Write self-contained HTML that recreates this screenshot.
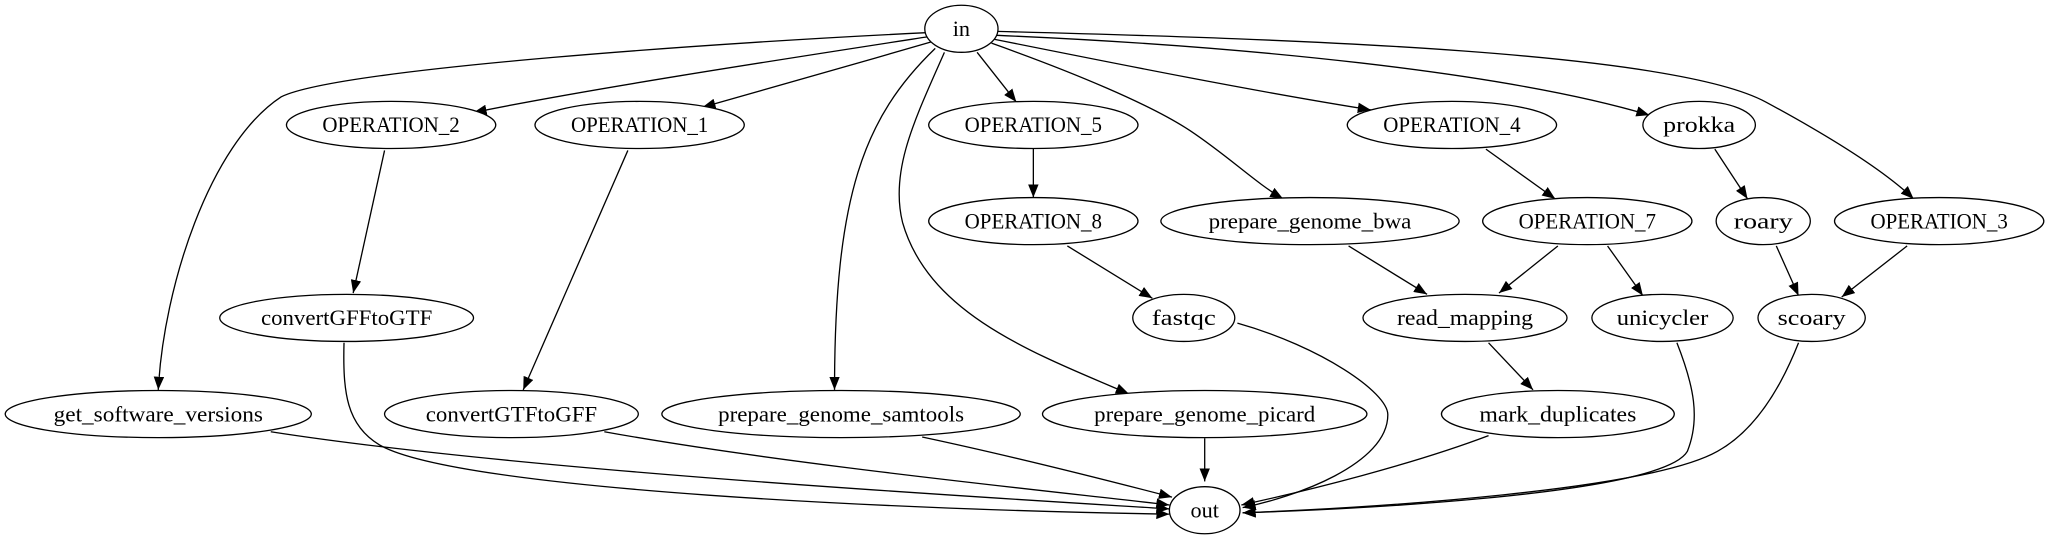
<!DOCTYPE html>
<html><head><meta charset="utf-8"><style>
html,body{margin:0;padding:0;background:#fff;}
svg{display:block;}
text{font-family:"Liberation Serif",serif;font-size:17px;fill:#000;}
</style></head><body>
<svg width="2051" height="539" viewBox="0 0 1568 412" preserveAspectRatio="none" xmlns="http://www.w3.org/2000/svg">
<defs>
<marker id="a" markerUnits="userSpaceOnUse" markerWidth="11" markerHeight="8" refX="10" refY="4" orient="auto">
<path d="M0,0 L10,4 L0,8 z" fill="#000"/>
</marker>
</defs>
<g fill="none" stroke="#000" stroke-width="1" marker-end="url(#a)">
<path d="M708,25 C560,32 260,52 215,74 C160,110 125,220 121,298"/>
<path d="M710,28 C600,45 450,68 362,86"/>
<path d="M712,32 C650,50 580,70 537,82"/>
<path d="M715,37 C660,90 638,150 638,298"/>
<path d="M722,40 C700,90 680,130 690,170 C710,240 790,270 863,301"/>
<path d="M747,40 L777,78"/>
<path d="M758,33 C820,55 880,80 910,100 C940,120 960,140 981,152"/>
<path d="M760,30 C860,50 960,70 1048,84"/>
<path d="M762,27 C950,35 1150,55 1261,88"/>
<path d="M762,24 C1000,30 1280,40 1350,78 C1400,105 1440,130 1463,152"/>
<path d="M294,115 L270,224"/>
<path d="M480,115 L400,298"/>
<path d="M790,113 L790,151"/>
<path d="M816,188 L881,228"/>
<path d="M1031,188 L1091,225"/>
<path d="M1136,114 L1189,152"/>
<path d="M1191,188 L1146,224"/>
<path d="M1229,188 L1256,226"/>
<path d="M1311,114 L1336,152"/>
<path d="M1358,188 L1375,226"/>
<path d="M1458,188 L1408,227"/>
<path d="M1138,262 L1172,298"/>
<path d="M921,335 L921,368"/>
<path d="M946,247 C1010,265 1061,300 1061,317 C1061,355 990,380 950,388"/>
<path d="M1138,333 C1080,355 1000,375 949,386"/>
<path d="M1282,262 C1295,295 1300,320 1290,345 C1270,380 1010,390 950,392"/>
<path d="M1375,262 C1360,300 1340,330 1313,345 C1260,375 1050,388 950,392"/>
<path d="M207,330 C400,360 750,380 894,389"/>
<path d="M462,330 C600,355 800,375 894,386"/>
<path d="M705,334 C780,350 850,368 896,380"/>
<path d="M263,262 C262,300 265,325 290,340 C350,375 700,390 894,393"/>
</g>
<g fill="#fff" stroke="#000" stroke-width="1">
<ellipse cx="735" cy="22" rx="28" ry="18"/>
<ellipse cx="299" cy="95.5" rx="80" ry="18"/>
<ellipse cx="489" cy="95.5" rx="80" ry="18"/>
<ellipse cx="790" cy="95.5" rx="80" ry="18"/>
<ellipse cx="1110" cy="95.5" rx="80" ry="18"/>
<ellipse cx="1299" cy="95.5" rx="43" ry="18"/>
<ellipse cx="790" cy="169" rx="80" ry="18"/>
<ellipse cx="1001.5" cy="169" rx="114" ry="18"/>
<ellipse cx="1213.5" cy="169" rx="80" ry="18"/>
<ellipse cx="1348" cy="169" rx="36" ry="18"/>
<ellipse cx="1482.5" cy="169" rx="80" ry="18"/>
<ellipse cx="265" cy="243" rx="97" ry="18"/>
<ellipse cx="905" cy="243" rx="39" ry="18"/>
<ellipse cx="1120" cy="243" rx="78" ry="18"/>
<ellipse cx="1271" cy="243" rx="54" ry="18"/>
<ellipse cx="1385" cy="243" rx="41" ry="18"/>
<ellipse cx="121" cy="316.5" rx="117" ry="18"/>
<ellipse cx="391" cy="316.5" rx="97" ry="18"/>
<ellipse cx="643" cy="316.5" rx="137" ry="18"/>
<ellipse cx="921" cy="316.5" rx="124" ry="18"/>
<ellipse cx="1191" cy="316.5" rx="89" ry="18"/>
<ellipse cx="921" cy="390" rx="27" ry="18"/>
</g>
<g text-anchor="middle" lengthAdjust="spacingAndGlyphs">
<text x="735" y="27.5">in</text>
<text x="299" y="101" textLength="105" lengthAdjust="spacingAndGlyphs">OPERATION_2</text>
<text x="489" y="101" textLength="105" lengthAdjust="spacingAndGlyphs">OPERATION_1</text>
<text x="790" y="101" textLength="105" lengthAdjust="spacingAndGlyphs">OPERATION_5</text>
<text x="1110" y="101" textLength="105" lengthAdjust="spacingAndGlyphs">OPERATION_4</text>
<text x="1299" y="101" textLength="55" lengthAdjust="spacingAndGlyphs">prokka</text>
<text x="790" y="174.5" textLength="105" lengthAdjust="spacingAndGlyphs">OPERATION_8</text>
<text x="1001.5" y="174.5" textLength="155" lengthAdjust="spacingAndGlyphs">prepare_genome_bwa</text>
<text x="1213.5" y="174.5" textLength="105" lengthAdjust="spacingAndGlyphs">OPERATION_7</text>
<text x="1348" y="174.5" textLength="45" lengthAdjust="spacingAndGlyphs">roary</text>
<text x="1482.5" y="174.5" textLength="105" lengthAdjust="spacingAndGlyphs">OPERATION_3</text>
<text x="265" y="248.5" textLength="131" lengthAdjust="spacingAndGlyphs">convertGFFtoGTF</text>
<text x="905" y="248.5" textLength="49" lengthAdjust="spacingAndGlyphs">fastqc</text>
<text x="1120" y="248.5" textLength="104" lengthAdjust="spacingAndGlyphs">read_mapping</text>
<text x="1271" y="248.5" textLength="70" lengthAdjust="spacingAndGlyphs">unicycler</text>
<text x="1385" y="248.5" textLength="52" lengthAdjust="spacingAndGlyphs">scoary</text>
<text x="121" y="322" textLength="160" lengthAdjust="spacingAndGlyphs">get_software_versions</text>
<text x="391" y="322" textLength="131" lengthAdjust="spacingAndGlyphs">convertGTFtoGFF</text>
<text x="643" y="322" textLength="188" lengthAdjust="spacingAndGlyphs">prepare_genome_samtools</text>
<text x="921" y="322" textLength="169" lengthAdjust="spacingAndGlyphs">prepare_genome_picard</text>
<text x="1191" y="322" textLength="120" lengthAdjust="spacingAndGlyphs">mark_duplicates</text>
<text x="921" y="395.5">out</text>
</g>
</svg>
</body></html>
